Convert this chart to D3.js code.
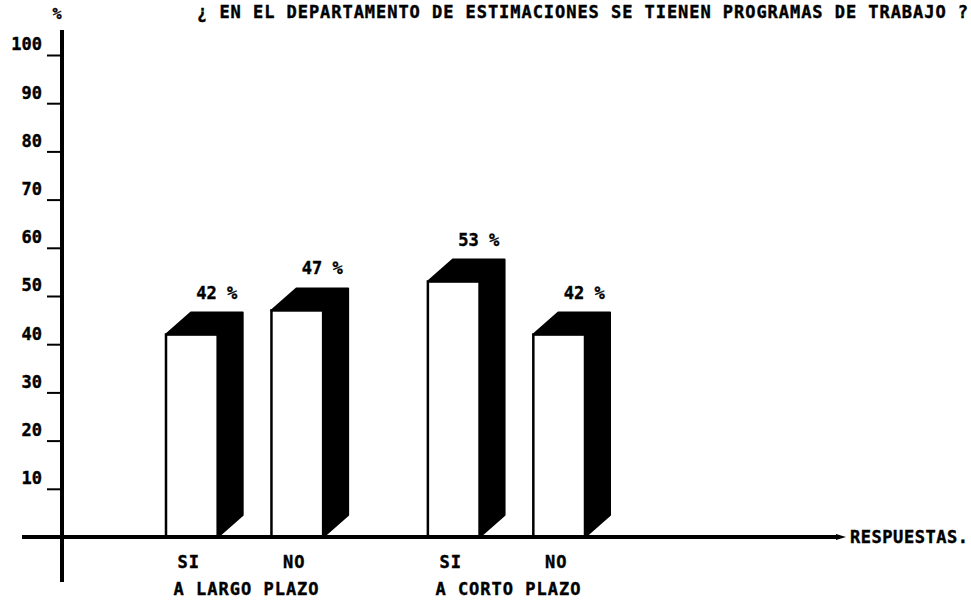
<!DOCTYPE html>
<html>
<head>
<meta charset="utf-8">
<script src="https://cdnjs.cloudflare.com/ajax/libs/d3/7.8.5/d3.min.js"></script>
<style>
 body { margin: 0; background: #fff; }
 text { font-family: 'DejaVu Sans Mono', monospace; font-weight: bold; fill: #000; stroke: #000; stroke-width: 0.4px; }
</style>
</head>
<body>
<div class="container"></div>
<script>
'use strict';

var title = '¿ EN EL DEPARTAMENTO DE ESTIMACIONES SE TIENEN PROGRAMAS DE TRABAJO ?';
var groups = ['A LARGO PLAZO', 'A CORTO PLAZO'];
var answers = ['SI', 'NO'];
var largoPlazo = [42, 47];
var cortoPlazo = [53, 42];
var yTicks = [10, 20, 30, 40, 50, 60, 70, 80, 90, 100];

var width = 971,
	height = 601,
	depthX = 25,
	depthY = 22;

//Flatten the two series into one list of bars.
var values = [largoPlazo, cortoPlazo];
var bars = [];
groups.forEach(function(g, i) {
	answers.forEach(function(a, j) {
		bars.push({group: g, answer: a, val: values[i][j]});
	});
});

var svg = d3.select('.container').append('svg')
	.attr('width', width)
	.attr('height', height)
	.attr('viewBox', '0 0 ' + width + ' ' + height);

var y = d3.scaleLinear().domain([0, 100]).range([537, 55]);
var x0 = d3.scaleBand().domain(groups).range([166, 585]).paddingInner(0.4);
var x1 = d3.scaleBand().domain(answers).range([0, x0.bandwidth()]).paddingInner(0.51);

var left = function(d) { return x0(d.group) + x1(d.answer); };

//Y axis ticks, labels sit just above each tick.
var yAxis = svg.append('g')
	.attr('transform', 'translate(62,0)')
	.call(d3.axisLeft(y).tickValues(yTicks).tickSize(15).tickPadding(5));
yAxis.select('.domain').remove();
yAxis.selectAll('line').attr('stroke', '#000').attr('stroke-width', 2);
yAxis.selectAll('text')
	.attr('dy', '-0.3em')
	.attr('fill', '#000')
	.style('font-size', '17px')
	.style('font-family', "'DejaVu Sans Mono', monospace")
	.style('font-weight', 'bold');

//Bars: black top and side, then white front.
var bar = svg.selectAll('.bar').data(bars).enter().append('g').attr('class', 'bar');

bar.append('path')
	.attr('fill', '#000')
	.attr('stroke', '#000')
	.attr('stroke-width', 2)
	.attr('stroke-linejoin', 'round')
	.attr('d', function(d) {
		var l = left(d), r = l + x1.bandwidth(), t = y(d.val), b = y(0);
		return 'M' + l + ',' + t +
			'L' + (l + depthX) + ',' + (t - depthY) +
			'L' + (r + depthX) + ',' + (t - depthY) +
			'L' + (r + depthX) + ',' + (b - depthY) +
			'L' + r + ',' + b +
			'L' + r + ',' + t + 'Z';
	});

bar.append('rect')
	.attr('x', left)
	.attr('y', function(d) { return y(d.val); })
	.attr('width', x1.bandwidth())
	.attr('height', function(d) { return y(0) - y(d.val); })
	.attr('fill', '#fff')
	.attr('stroke', '#000')
	.attr('stroke-width', 2.5);

bar.append('text')
	.attr('x', function(d) { return left(d) + depthX + x1.bandwidth() / 2; })
	.attr('y', function(d) { return y(d.val) - depthY - 14; })
	.attr('text-anchor', 'middle')
	.style('font-size', '17px')
	.text(function(d) { return d.val + ' %'; });

bar.append('text')
	.attr('x', function(d) { return left(d) + x1.bandwidth() / 2 - 3; })
	.attr('y', 568)
	.attr('text-anchor', 'middle')
	.style('font-size', '17px')
	.style('letter-spacing', '1px')
	.text(function(d) { return d.answer; });

svg.selectAll('.group').data(groups).enter().append('text')
	.attr('class', 'group')
	.attr('x', function(d) { return x0(d) + x0.bandwidth() / 2 + 2; })
	.attr('y', 595)
	.attr('text-anchor', 'middle')
	.style('font-size', '17px')
	.style('letter-spacing', '1px')
	.text(function(d) { return d; });

//Axes lines.
svg.append('line')
	.attr('x1', 62).attr('x2', 62)
	.attr('y1', 30).attr('y2', 582)
	.attr('stroke', '#000')
	.attr('stroke-width', 4);

svg.append('line')
	.attr('x1', 22).attr('x2', 838)
	.attr('y1', y(0)).attr('y2', y(0))
	.attr('stroke', '#000')
	.attr('stroke-width', 4);

svg.append('path')
	.attr('d', 'M836,' + (y(0) - 3) + 'L846,' + y(0) + 'L836,' + (y(0) + 3) + 'Z')
	.attr('fill', '#000');

svg.append('text')
	.attr('x', 850)
	.attr('y', y(0) + 6)
	.attr('textLength', 118)
	.style('font-size', '17px')
	.text('RESPUESTAS.');

svg.append('text')
	.attr('x', 57)
	.attr('y', 19)
	.attr('text-anchor', 'middle')
	.style('font-size', '15px')
	.text('%');

svg.append('text')
	.attr('x', 197)
	.attr('y', 18)
	.attr('textLength', 771)
	.style('font-size', '17px')
	.text(title);
</script>
</body>
</html>
